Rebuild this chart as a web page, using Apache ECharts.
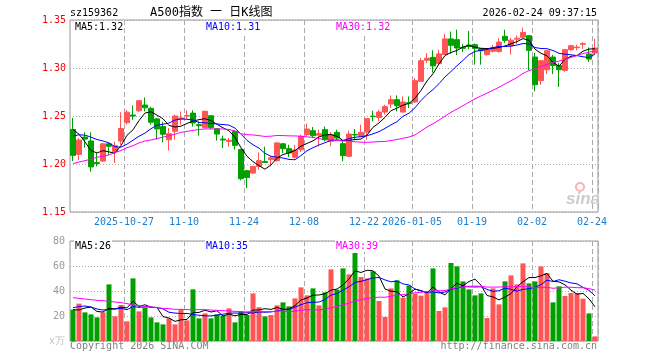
<!DOCTYPE html>
<html><head><meta charset="utf-8">
<script src="https://cdn.jsdelivr.net/npm/echarts@6/dist/echarts.min.js"></script>
<style>html,body{margin:0;padding:0;background:#fff}#c{width:660px;height:360px}</style>
</head><body><div id="c"></div>
<script>
const dates = ['2025-10-14','2025-10-15','2025-10-16','2025-10-17','2025-10-20','2025-10-21','2025-10-22','2025-10-23','2025-10-24','2025-10-27','2025-10-28','2025-10-29','2025-10-30','2025-10-31','2025-11-03','2025-11-04','2025-11-05','2025-11-06','2025-11-07','2025-11-10','2025-11-11','2025-11-12','2025-11-13','2025-11-14','2025-11-17','2025-11-18','2025-11-19','2025-11-20','2025-11-21','2025-11-24','2025-11-25','2025-11-26','2025-11-27','2025-11-28','2025-12-01','2025-12-02','2025-12-03','2025-12-04','2025-12-05','2025-12-08','2025-12-09','2025-12-10','2025-12-11','2025-12-12','2025-12-15','2025-12-16','2025-12-17','2025-12-18','2025-12-19','2025-12-22','2025-12-23','2025-12-24','2025-12-25','2025-12-26','2025-12-29','2025-12-30','2025-12-31','2026-01-05','2026-01-06','2026-01-07','2026-01-08','2026-01-09','2026-01-12','2026-01-13','2026-01-14','2026-01-15','2026-01-16','2026-01-19','2026-01-20','2026-01-21','2026-01-22','2026-01-23','2026-01-26','2026-01-27','2026-01-28','2026-01-29','2026-01-30','2026-02-02','2026-02-03','2026-02-04','2026-02-05','2026-02-06','2026-02-09','2026-02-10','2026-02-11','2026-02-12','2026-02-13','2026-02-24'];
const opens = [1.236,1.210,1.228,1.224,1.2015,1.203,1.221,1.213,1.224,1.243,1.251,1.2555,1.2614,1.258,1.247,1.239,1.2253,1.234,1.247,1.250,1.253,1.241,1.2378,1.2503,1.2368,1.226,1.2235,1.234,1.215,1.193,1.1906,1.1975,1.2025,1.2045,1.2035,1.221,1.216,1.207,1.2149,1.2305,1.2347,1.230,1.2358,1.2236,1.233,1.2212,1.208,1.2308,1.2288,1.2333,1.2498,1.2486,1.2541,1.2625,1.267,1.2541,1.2638,1.2646,1.2861,1.308,1.3111,1.3045,1.314,1.3303,1.3295,1.3215,1.324,1.3243,1.3201,1.3139,1.3175,1.3173,1.333,1.323,1.330,1.332,1.3336,1.3114,1.2868,1.2982,1.3114,1.3027,1.2975,1.3191,1.3212,1.3247,1.3146,1.3156];
const closes = [1.209,1.225,1.226,1.197,1.2005,1.221,1.2185,1.219,1.237,1.254,1.250,1.266,1.2586,1.2435,1.2365,1.231,1.2316,1.250,1.248,1.2505,1.2427,1.2398,1.2549,1.2378,1.2312,1.225,1.2248,1.2194,1.1847,1.186,1.1975,1.2035,1.2015,1.2065,1.222,1.216,1.2114,1.2146,1.2288,1.2364,1.2295,1.2316,1.2253,1.2305,1.2271,1.2087,1.2312,1.2302,1.233,1.2472,1.2494,1.2541,1.260,1.267,1.2607,1.2646,1.2632,1.2868,1.3076,1.3102,1.3022,1.3147,1.3303,1.3236,1.3208,1.3205,1.3225,1.3205,1.318,1.3198,1.3215,1.327,1.3288,1.329,1.331,1.337,1.3184,1.2826,1.3076,1.318,1.3027,1.2982,1.3191,1.3232,1.3218,1.3253,1.3093,1.3208];
const lows = [1.203,1.204,1.217,1.192,1.1975,1.202,1.2095,1.201,1.220,1.241,1.246,1.254,1.2548,1.241,1.2253,1.2225,1.214,1.2253,1.241,1.247,1.239,1.2295,1.2375,1.236,1.2243,1.2166,1.218,1.215,1.183,1.175,1.190,1.194,1.201,1.1976,1.2025,1.2114,1.2073,1.2055,1.2125,1.2288,1.227,1.2184,1.2236,1.2184,1.2253,1.2027,1.2073,1.2253,1.2285,1.2253,1.2444,1.2444,1.2514,1.2583,1.2548,1.2535,1.2583,1.2635,1.286,1.3052,1.2952,1.304,1.3135,1.315,1.3135,1.3165,1.3195,1.3035,1.3035,1.313,1.316,1.316,1.326,1.314,1.325,1.331,1.2975,1.2757,1.2826,1.2937,1.2937,1.2802,1.296,1.318,1.3184,1.320,1.3062,1.3139];
const highs = [1.248,1.227,1.233,1.233,1.2115,1.222,1.2225,1.223,1.254,1.2565,1.261,1.2665,1.2694,1.2595,1.248,1.2438,1.2375,1.2514,1.2548,1.256,1.256,1.2444,1.2555,1.2505,1.237,1.2295,1.227,1.235,1.216,1.194,1.198,1.212,1.218,1.2087,1.2225,1.222,1.220,1.220,1.2306,1.242,1.2385,1.2358,1.2392,1.2333,1.2357,1.2236,1.2347,1.2364,1.2409,1.2479,1.2555,1.2566,1.2618,1.2715,1.2715,1.2704,1.2704,1.2895,1.3104,1.3156,1.3185,1.319,1.3354,1.338,1.340,1.325,1.3385,1.3255,1.3208,1.3205,1.324,1.331,1.3399,1.3315,1.334,1.342,1.334,1.3156,1.3076,1.318,1.3138,1.3052,1.320,1.324,1.3243,1.327,1.3215,1.3302];
const volumes = [25.1,29.9,22.9,21.3,18.9,22.9,45.3,19.7,28.8,15.7,50.1,23.7,26.7,18.9,14.9,13.3,18.1,13.3,25.1,16.5,41.3,18.1,22.1,18.1,21.3,20.3,26.1,14.9,23.7,20.8,38.1,27.0,19.7,20.8,28.5,30.9,27.7,34.1,42.9,36.5,42.1,28.5,38.9,57.3,41.1,58.1,53.3,70.4,51.2,50.1,55.7,32.0,19.2,42.1,48.5,34.7,44.3,37.9,36.3,39.2,58.1,24.0,26.9,62.4,59.7,47.7,41.3,36.5,38.1,18.4,42.1,29.3,47.7,52.5,45.3,62.1,46.1,47.7,59.7,54.4,30.9,43.7,36.0,38.4,38.4,33.9,22.1,3.7];
const tickDates = ['2025-10-27','2025-11-10','2025-11-24','2025-12-08','2025-12-22','2026-01-05','2026-01-19','2026-02-02','2026-02-24'];
const tickLabels = ['2025-10-27','11-10','11-24','12-08','12-22','2026-01-05','01-19','02-02','02-24'];
// moving-average values at the left edge (their windows start before the visible range)
const ma5Head = [1.236,1.231,1.223,1.214];
const ma10Head = [1.229,1.2305,1.230,1.228,1.2255,1.224,1.222,1.218,1.2175];
const ma30Head = [1.2005,1.202,1.2035,1.205,1.207,1.208,1.2095,1.212,1.214,1.217,1.219,1.222,1.224,1.225,1.2265,1.228,1.2295,1.231,1.233,1.234,1.235,1.236,1.2365,1.2365,1.2365,1.2365,1.236,1.2345,1.2315];
const vma5Head = [25.1,24.8,26.4,27.2];
const vma10Head = [26.7,27.5,28.0,27.2,25.6,24.8,25.3,25.6,26.1];
const vma30Head = [34.7,34.1,33.6,33.1,32.5,32.3,31.7,31.2,30.7,29.9,28.8,28.3,27.7,27.2,26.7,26.1,25.9,25.3,25.3,25.1,25.1,25.1,25.1,24.8,24.5,24.3,24.0,23.7,23.5];
const priceLegend = ['MA5:1.32','MA10:1.31','MA30:1.32'];
const volLegend = ['MA5:26','MA10:35','MA30:39'];

const RED = '#ff5555', GREEN = '#00a000';
const MONO = '"DejaVu Sans Mono", monospace';
function ma(arr, n, head) {
  return arr.map((v, i) => {
    if (i < head.length) return head[i];
    let s = 0; for (let j = i - n + 1; j <= i; j++) s += arr[j];
    return +(s / n).toFixed(4);
  });
}
const isTick = (i) => tickDates.indexOf(dates[i]) >= 0;
const candle = dates.map((d, i) => [opens[i], closes[i], lows[i], highs[i]]);
const volBars = volumes.map((v, i) => ({ value: v, itemStyle: { color: closes[i] >= opens[i] ? RED : GREEN } }));
const vSplit = { show: true, interval: (i) => isTick(i), lineStyle: { color: '#aaa', type: [5, 3], width: 1 } };
const hSplit = { show: true, lineStyle: { color: '#a8a8a8', type: [1, 2], width: 1 } };
function line(name, data, color, xi) {
  return { name, type: 'line', xAxisIndex: xi, yAxisIndex: xi, data, symbol: 'none', showSymbol: false,
    lineStyle: { color, width: 1 }, itemStyle: { color }, z: 5, silent: true };
}
function txt(text, x, y, color, align, font, bg) {
  const st = { text, x, y, fill: color, font: font || ('10px ' + MONO), textAlign: align || 'left', align: align || 'left', textVerticalAlign: 'middle', verticalAlign: 'middle' };
  if (bg) { st.backgroundColor = '#fff'; st.padding = [1, 1]; }
  return { type: 'text', z: 100, silent: true, style: st };
}
const chart = echarts.init(document.getElementById('c'), null, { renderer: 'canvas' });
chart.setOption({
  animation: false,
  backgroundColor: '#fff',
  grid: [
    { left: 70, right: 62, top: 20, height: 192, show: true, borderColor: '#999', borderWidth: 1, backgroundColor: 'transparent', outerBoundsMode: 'none' },
    { left: 70, right: 62, top: 241, height: 100, show: true, borderColor: '#999', borderWidth: 1, backgroundColor: 'transparent', outerBoundsMode: 'none' }
  ],
  xAxis: [
    { type: 'category', gridIndex: 0, data: dates, boundaryGap: true, axisLine: { show: false }, axisTick: { show: false },
      axisLabel: { interval: (i) => isTick(i), formatter: (v) => tickLabels[tickDates.indexOf(v)] || '', color: '#1a7fd1', fontFamily: MONO, fontSize: 10, margin: 5, padding: [0, 6, 0, 0], hideOverlap: false },
      splitLine: vSplit },
    { type: 'category', gridIndex: 1, data: dates, boundaryGap: true, axisLine: { show: false }, axisTick: { show: false }, axisLabel: { show: false }, splitLine: vSplit }
  ],
  yAxis: [
    { type: 'value', gridIndex: 0, min: 1.15, max: 1.35, interval: 0.05, axisLine: { show: false }, axisTick: { show: false },
      axisLabel: { color: '#f00', fontFamily: MONO, fontSize: 10, margin: 4, formatter: (v) => v.toFixed(2) }, splitLine: hSplit },
    { type: 'value', gridIndex: 1, min: 0, max: 80, interval: 20, axisLine: { show: false }, axisTick: { show: false },
      axisLabel: { color: '#999', fontFamily: MONO, fontSize: 10, margin: 5, formatter: (v) => v === 0 ? '{u|x万}' : String(v), rich: { u: { color: '#c0c0c0', fontSize: 10, fontFamily: MONO } } },
      splitLine: hSplit }
  ],
  series: [
    { type: 'candlestick', xAxisIndex: 0, yAxisIndex: 0, data: candle, barWidth: 5,
      itemStyle: { color: RED, color0: GREEN, borderColor: RED, borderColor0: GREEN, borderWidth: 1 }, silent: true },
    line('MA5', ma(closes, 5, ma5Head), '#000', 0),
    line('MA10', ma(closes, 10, ma10Head), '#0000ff', 0),
    line('MA30', ma(closes, 30, ma30Head), '#ff00ff', 0),
    { type: 'bar', xAxisIndex: 1, yAxisIndex: 1, data: volBars, barWidth: 5, silent: true },
    line('VMA5', ma(volumes, 5, vma5Head), '#000', 1),
    line('VMA10', ma(volumes, 10, vma10Head), '#0000ff', 1),
    line('VMA30', ma(volumes, 30, vma30Head), '#ff00ff', 1)
  ],
  graphic: [
    txt('sz159362', 70, 13, '#000'),
    txt('A500指数 一 日K线图', 150, 13, '#000', 'left', '12px "DejaVu Sans Mono","Noto Sans CJK SC", sans-serif'),
    txt('2026-02-24 09:37:15', 597, 13, '#000', 'right'),
    txt(priceLegend[0], 74, 27, '#000', 'left', null, true),
    txt(priceLegend[1], 205, 27, '#0000ff', 'left', null, true),
    txt(priceLegend[2], 335, 27, '#ff00ff', 'left', null, true),
    txt(volLegend[0], 74, 246, '#000', 'left', null, true),
    txt(volLegend[1], 205, 246, '#0000ff', 'left', null, true),
    txt(volLegend[2], 335, 246, '#ff00ff', 'left', null, true),
    txt('Copyright 2026 SINA.COM', 70, 346, '#808080'),
    txt('http://finance.sina.com.cn', 597, 346, '#808080', 'right'),
    { type: 'circle', z: 1, silent: true, shape: { cx: 580, cy: 187, r: 4 }, style: { fill: 'none', stroke: '#f3b5b5', lineWidth: 2 } },
    txt('sina', 566, 199, '#cccccc', 'left', 'italic bold 17px "Liberation Sans", sans-serif')
  ]
});
</script></body></html>
